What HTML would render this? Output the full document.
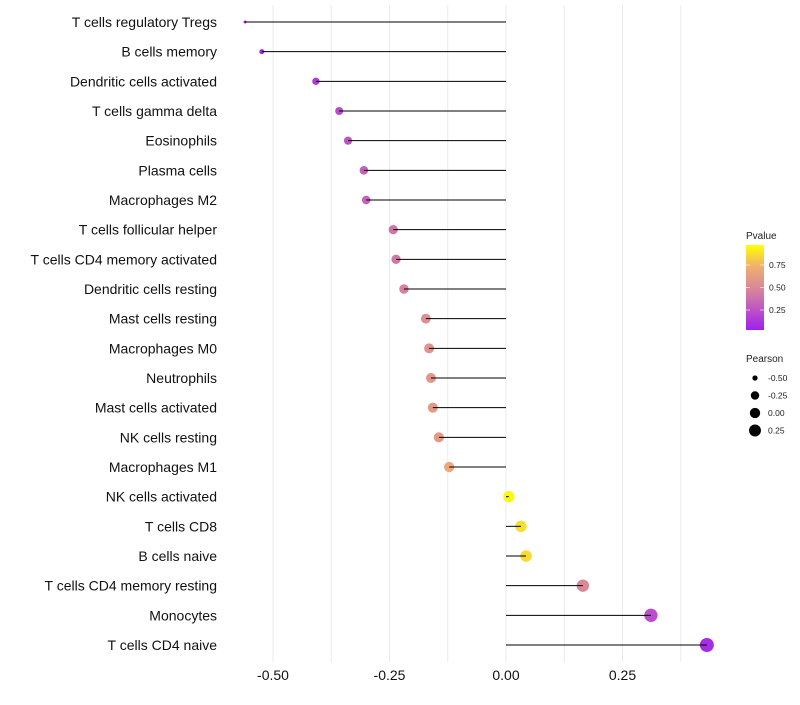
<!DOCTYPE html>
<html><head><meta charset="utf-8"><style>
body{margin:0;background:#fff;font-family:"Liberation Sans",sans-serif}
</style></head><body>
<svg id="chart" width="800" height="700" xmlns="http://www.w3.org/2000/svg" font-family="Liberation Sans, sans-serif"></svg>
<script>
const categories=["T cells regulatory  Tregs","B cells memory","Dendritic cells activated","T cells gamma delta","Eosinophils","Plasma cells","Macrophages M2","T cells follicular helper","T cells CD4 memory activated","Dendritic cells resting","Mast cells resting","Macrophages M0","Neutrophils","Mast cells activated","NK cells resting","Macrophages M1","NK cells activated","T cells CD8","B cells naive","T cells CD4 memory resting","Monocytes","T cells CD4 naive"];
const pearson=[-0.56,-0.524,-0.408,-0.358,-0.339,-0.305,-0.30,-0.242,-0.236,-0.219,-0.172,-0.165,-0.161,-0.157,-0.144,-0.122,0.006,0.032,0.043,0.165,0.311,0.431];
const pvalue=[0.02,0.04,0.12,0.2,0.24,0.3,0.31,0.4,0.41,0.45,0.55,0.57,0.58,0.6,0.62,0.7,0.98,0.9,0.88,0.5,0.22,0.06];
const xTicks=[-0.5,-0.25,0,0.25];
const xTickLabels=["-0.50","-0.25","0.00","0.25"];
const pTicks=[0.25,0.5,0.75];
const pTickLabels=["0.25","0.50","0.75"];
const sizeLegend=[-0.5,-0.25,0,0.25];
const sizeLegendLabels=["-0.50","-0.25","0.00","0.25"];

const svg=document.getElementById('chart');
const NS="http://www.w3.org/2000/svg";
function mk(tag,attrs,parent){const e=document.createElementNS(NS,tag);for(const k in attrs)e.setAttribute(k,attrs[k]);(parent||svg).appendChild(e);return e;}
const xS=v=>506+466*v;
const yS=i=>22+i*(623/21);
const rS=v=>1.5+5.5*Math.sqrt(Math.max(v+0.56,0)/0.99);
const stops=[[0,[160,32,240]],[0.45,[213,128,160]],[0.75,[240,176,112]],[1,[255,255,0]]];
function col(p){for(let i=1;i<stops.length;i++){if(p<=stops[i][0]){const a=stops[i-1],b=stops[i];const t=(p-a[0])/(b[0]-a[0]);const c=a[1].map((x,j)=>Math.round(x+(b[1][j]-x)*t));return `rgb(${c})`;}}return 'rgb(255,255,0)';}

const grid=mk('g',{});


[-0.5,-0.375,-0.25,-0.125,0,0.125,0.25,0.375].forEach(v=>{
  const l=mk('line',{x1:xS(v),x2:xS(v),y1:5,y2:662,stroke:'#ebebeb','stroke-width':1},grid);
  
  
});
xTicks.forEach((v,i)=>{
  const t=mk('text',{x:xS(v),y:680,'text-anchor':'middle','font-size':14,fill:'#111'});
  t.textContent=xTickLabels[i];
  
  
});
categories.forEach((c,i)=>{
  const y=yS(i);
  const lab=mk('text',{x:217,y:y+5,'text-anchor':'end','font-size':14,fill:'#111'});
  lab.textContent=c;
  
  
  const pt=mk('circle',{cx:xS(pearson[i]),cy:y,r:rS(pearson[i]),fill:col(pvalue[i])});
  
  
  const ln=mk('line',{x1:xS(0),x2:xS(pearson[i]),y1:y,y2:y,stroke:'#000','stroke-width':1});
  
  
});
const defs=mk('defs',{});
const lg=mk('linearGradient',{id:'pg',x1:0,y1:1,x2:0,y2:0},defs);
stops.forEach(s=>mk('stop',{offset:s[0],'stop-color':`rgb(${s[1]})`},lg));
const pt=mk('text',{x:746,y:239,'font-size':10,fill:'#222'});pt.textContent='Pvalue';


const cb=mk('rect',{x:746,y:245,width:18,height:85,fill:'url(#pg)'});


pTicks.forEach((v,i)=>{
  const y=332.5-90*v;
  mk('line',{x1:746,x2:750,y1:y,y2:y,stroke:'#fff','stroke-width':0.6});
  mk('line',{x1:760,x2:764,y1:y,y2:y,stroke:'#fff','stroke-width':0.6});
  const t=mk('text',{x:769,y:y+3,'font-size':8.5,fill:'#222'});t.textContent=pTickLabels[i];
  
  
});
const st=mk('text',{x:746,y:362,'font-size':10,fill:'#222'});st.textContent='Pearson';


sizeLegend.forEach((v,i)=>{
  const y=378+i*17.5;
  const c=mk('circle',{cx:755,cy:y,r:rS(v)*0.92,fill:'#000'});
  
  
  const t=mk('text',{x:768,y:y+3,'font-size':8.5,fill:'#222'});t.textContent=sizeLegendLabels[i];
  
  
});
</script>
</body></html>
